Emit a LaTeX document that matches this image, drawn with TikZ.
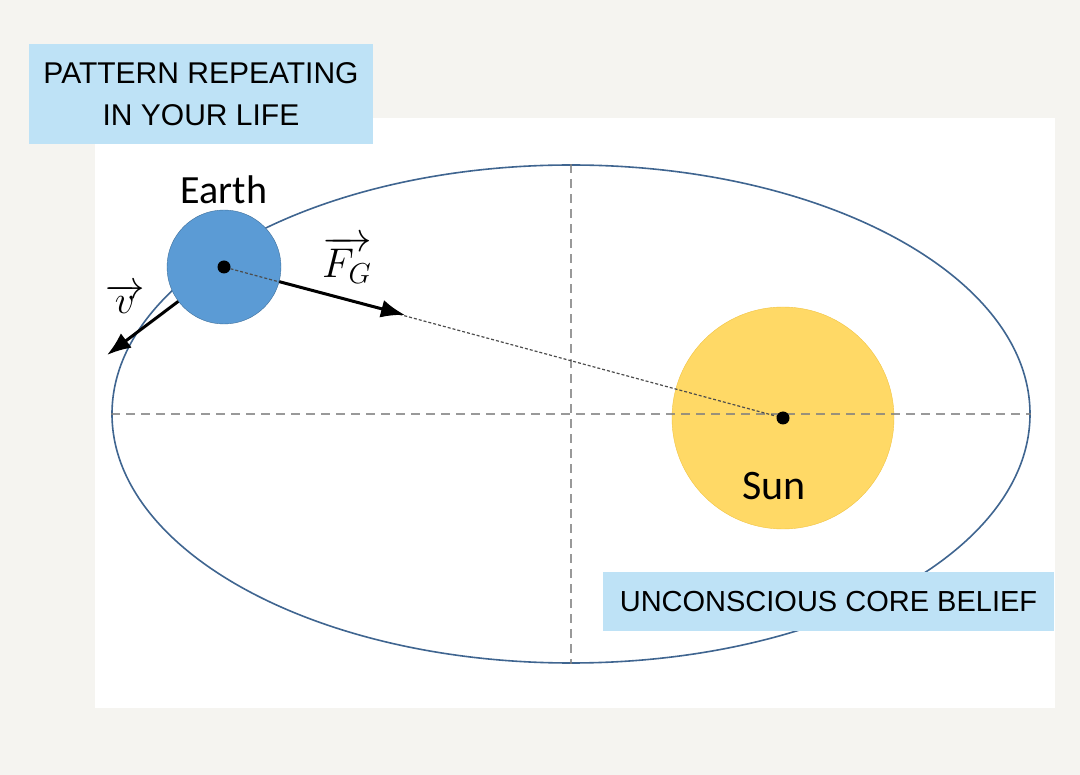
\documentclass[tikz,border=0pt]{standalone}
\usepackage{fontspec}
\newfontfamily\calibri{Carlito}
\newfontfamily\arial{Liberation Sans}
\usetikzlibrary{arrows.meta}
\usetikzlibrary{shapes.geometric}
\definecolor{paper}{HTML}{F5F4F0}
\definecolor{boxblue}{HTML}{BEE2F6}
\definecolor{earthblue}{HTML}{5B9BD5}
\definecolor{earthedge}{HTML}{41719C}
\definecolor{sunyellow}{HTML}{FFD966}
\definecolor{sunedge}{HTML}{F2C443}
\definecolor{orbitblue}{HTML}{3F6590}
\tikzset{
dot/.style={shape=circle, fill=black, inner sep=0pt, minimum size=13pt},
textbox/.style={fill=boxblue, align=center, inner sep=0pt},
force/.style={line width=3pt, -{Latex[length=24pt,width=18pt]}},
axis/.style={gray, opacity=0.8, line width=1.8pt, dash pattern=on 9pt off 6pt},
vecname/.style={font=\fontsize{20.74}{20}\selectfont, inner sep=0pt}
}

\begin{document}
\begin{tikzpicture}[x=1pt,y=-1pt]

    \fill[paper] (0,0) rectangle (1080,775);
    \fill[white] (95,118) rectangle (1055,708);

    \node[shape=ellipse, draw=orbitblue, line width=1.6pt, minimum width=918pt, minimum height=498pt, inner sep=0pt] (O) at (571,414) {};

    \node[shape=circle, draw=earthedge, fill=earthblue, minimum size=114pt, inner sep=0pt, label={[font=\calibri\fontsize{40}{40}\selectfont, label distance=2pt]above:Earth}] (E) at (224,267) {};
    \node[shape=circle, draw=sunedge, fill=sunyellow, minimum size=222pt, inner sep=0pt] (S) at (783,418) {};
    \node[font=\calibri\fontsize{42}{42}\selectfont] (SL) at (774,486) {Sun};

    \draw[axis] (O.west) -- (O.east);
    \draw[axis] (O.north) -- (O.south);

    \node[dot] (e) at (E) {};
    \node[dot] (s) at (S) {};
    \draw[black!70, line width=1.2pt, dash pattern=on 3pt off 2pt] (e) -- (s);

    \coordinate (fg) at (405,315);
    \coordinate (vt) at (107,355);
    \draw[force] (E) -- (fg);
    \draw[force] (E) -- (vt);
    \node[vecname, scale=2] (FL) at (347,260) {$\overrightarrow{F_G}$};
    \node[vecname, scale=1.9] (VL) at (125,299) {$\overrightarrow{v}$};

    \node[textbox, minimum width=344pt, minimum height=100pt, font=\arial\fontsize{30}{42}\selectfont] (P) at (201,94) {PATTERN REPEATING\\IN YOUR LIFE};
    \node[textbox, minimum width=451pt, minimum height=59pt, font=\arial\fontsize{29}{32}\selectfont] (U) at (828.5,601.5) {UNCONSCIOUS CORE BELIEF};

\end{tikzpicture}
\end{document}
